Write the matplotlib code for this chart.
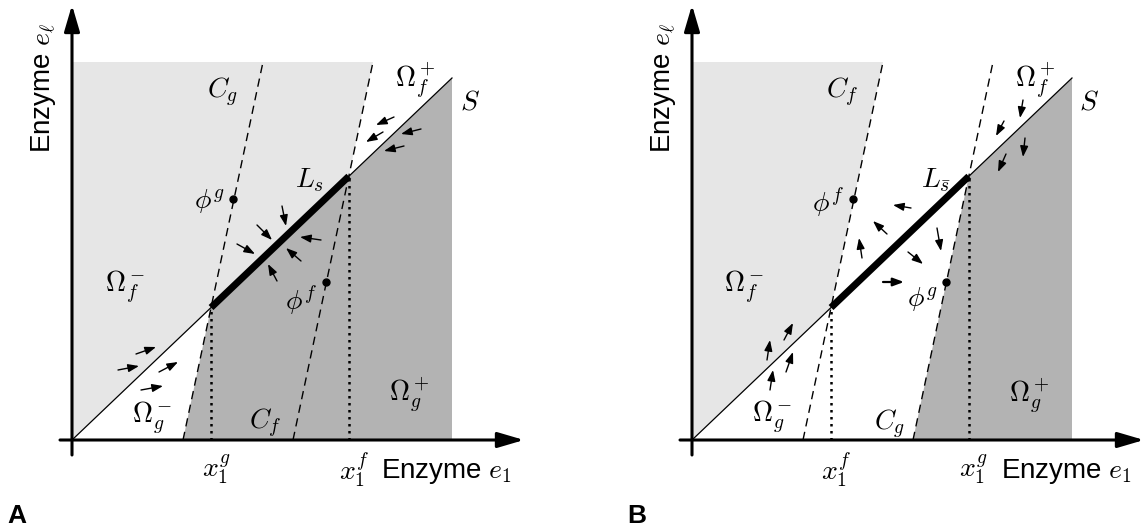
import matplotlib.pyplot as plt
from matplotlib.patches import FancyArrowPatch

plt.rcParams['mathtext.fontset'] = 'cm'
plt.rcParams['font.family'] = ['Liberation Sans', 'DejaVu Sans']

# geometry of a panel (units = pixels, origin at the axes crossing)
s_end = (380, 362)         # end of the line S
shade_top = 378            # top edge of the light region
shade_right = 380          # right edge of the dark region
cone_1 = (111, 191)        # left dashed line: x at bottom, x at top
cone_2 = (221, 301)        # right dashed line
dot_1 = (161, 241)         # equilibrium point on the left dashed line
dot_2 = (254, 158)         # equilibrium point on the right dashed line

# small flow arrows (tail x, tail y, head x, head y)
arrows_a = [
    (210, 234, 214, 214), (185, 215, 200, 200), (165, 196, 183, 186),
    (249, 200, 228, 203), (229, 179, 214, 192), (205, 159, 196, 176),
    (322, 323, 304, 315), (311, 308, 294, 298), (349, 311, 329, 306),
    (332, 294, 312, 289),
    (64, 86, 84, 93), (46, 70, 67, 74), (87, 68, 106, 78), (69, 50, 91, 54),
]
arrows_b = [
    (219, 232, 201, 235), (195, 206, 181, 219), (170, 182, 167, 202),
    (245, 212, 249, 189), (216, 188, 231, 176), (191, 158, 212, 158),
    (331, 340, 328, 322), (312, 319, 304, 304), (333, 302, 331, 283),
    (314, 286, 306, 268),
    (92, 100, 101, 117), (75, 80, 78, 100), (94, 68, 101, 88), (78, 50, 81, 70),
]

labels_a = [
    (r'$C_g$', 151, 348), (r'$\Omega_f^+$', 343, 360), (r'$S$', 398, 338),
    (r'$L_s$', 238, 260), (r'$\phi^g$', 137, 238), (r'$\Omega_f^-$', 53, 153),
    (r'$\phi^f$', 229, 140), (r'$\Omega_g^-$', 80, 22), (r'$C_f$', 193, 17),
    (r'$\Omega_g^+$', 337, 45),
]
labels_b = [
    (r'$C_f$', 150, 348), (r'$\Omega_f^+$', 343, 360), (r'$S$', 397, 338),
    (r'$L_{\bar{s}}$', 244, 260), (r'$\phi^f$', 136, 238), (r'$\Omega_f^-$', 52, 153),
    (r'$\phi^g$', 230, 140), (r'$\Omega_g^-$', 80, 23), (r'$C_g$', 198, 16),
    (r'$\Omega_g^+$', 337, 44),
]
ticks_a = [r'$x_1^g$', r'$x_1^f$']
ticks_b = [r'$x_1^f$', r'$x_1^g$']

LIGHT = '#e6e6e6'
DARK = '#b3b3b3'
slope = s_end[1] / s_end[0]


def meet(cone):
    # where a dashed line crosses S
    k = (cone[1] - cone[0]) / shade_top
    x = cone[0] / (1 - k * slope)
    return x, slope * x


def arrow(ax, x0, y0, x1, y1, lw=1.0, style='-|>,head_length=0.65,head_width=0.24'):
    ax.add_patch(FancyArrowPatch((x0, y0), (x1, y1), arrowstyle=style,
                                 mutation_scale=10, lw=lw, color='k',
                                 shrinkA=0, shrinkB=0, zorder=6))


def panel(ax, light_cone, dark_cone, arrows, labels, ticks, letter):
    lx, ly = meet(light_cone)
    dx, dy = meet(dark_cone)
    ax.fill([0, 0, light_cone[1], lx], [0, shade_top, shade_top, ly],
            color=LIGHT, lw=0, zorder=1)
    ax.fill([dark_cone[0], dx, s_end[0], shade_right], [0, dy, s_end[1], 0],
            color=DARK, lw=0, zorder=1)

    ax.plot([0, s_end[0]], [0, s_end[1]], color='k', lw=0.9, zorder=3)
    for c in (cone_1, cone_2):
        ax.plot([c[0], c[1]], [0, shade_top], color='k', lw=1.0,
                linestyle=(0, (6, 4)), zorder=3)

    p1 = meet(cone_1)
    p2 = meet(cone_2)
    for p in (p1, p2):
        ax.plot([p[0], p[0]], [0, p[1]], color='k', lw=1.8,
                linestyle=(0, (1, 1.8)), zorder=3)
    ax.plot([p1[0], p2[0]], [p1[1], p2[1]], color='k', lw=5,
            solid_capstyle='butt', zorder=4)

    ax.plot([dot_1[0], dot_2[0]], [dot_1[1], dot_2[1]], 'o', color='k',
            ms=5, zorder=5)

    for i, a in enumerate(arrows):
        lw = 1.6 if (letter == 'B' and i == 5) else 1.0
        arrow(ax, *a, lw=lw)

    # coordinate axes
    arrow(ax, 0, -15, 0, 435, lw=2.2, style='-|>,head_length=1.6,head_width=0.47')
    arrow(ax, -12, 0, 452, 0, lw=2.2, style='-|>,head_length=1.6,head_width=0.47')

    for s, x, y in labels:
        ax.text(x, y, s, fontsize=20, ha='center', va='center', zorder=7)
    for s, p in zip(ticks, (p1, p2)):
        ax.text(p[0] + 5, -30, s, fontsize=20, ha='center', va='center')

    ax.text(309, -38, r'Enzyme $e_1$', fontsize=20, ha='left', va='baseline')
    ax.text(-29, 352, r'Enzyme $e_\ell$', fontsize=20, ha='center',
            va='center', rotation=90)
    ax.text(-55, -76, letter, fontsize=19, fontweight='bold', ha='center',
            va='center')


fig = plt.figure(figsize=(11.44, 5.31), dpi=100)
ax_a = fig.add_axes([0, 0, 0.5, 1])
ax_a.set_xlim(-72, 500)
ax_a.set_ylim(-91, 440)
ax_a.axis('off')
panel(ax_a, cone_2, cone_1, arrows_a, labels_a, ticks_a, 'A')

ax_b = fig.add_axes([0.5, 0, 0.5, 1])
ax_b.set_xlim(-120, 452)
ax_b.set_ylim(-91, 440)
ax_b.axis('off')
panel(ax_b, cone_1, cone_2, arrows_b, labels_b, ticks_b, 'B')

fig.savefig('out.png', dpi=100)
